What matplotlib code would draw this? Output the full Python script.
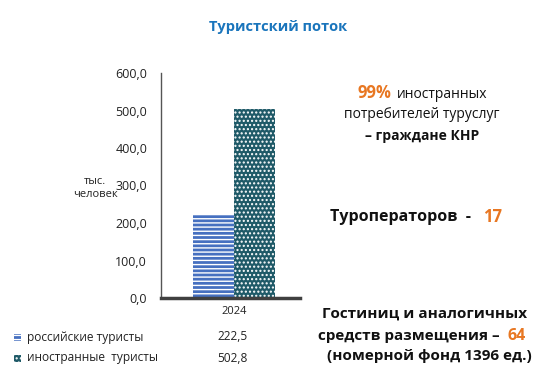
import matplotlib.pyplot as plt
from matplotlib.patches import Rectangle

categories = ["2024"]
series_names = ["российские туристы", "иностранные  туристы"]
russian = [222.5]
foreign = [502.8]
yticks = [0, 100, 200, 300, 400, 500, 600]

plt.rcParams['font.family'] = ['Open Sans', 'DejaVu Sans']
plt.rcParams['hatch.linewidth'] = 1.0

W, H = 556, 379
fig = plt.figure(figsize=(W / 100, H / 100), dpi=100)
ax = fig.add_axes([161 / W, 1 - 298 / H, 139 / W, 225 / H])

bw = 0.295
c_ru = '#4670C0'
c_fo = '#1F5A68'
h_ru = '----'
h_fo = '....'
ax.bar([-bw / 2], russian, width=bw, color=c_ru, hatch=h_ru, edgecolor='white', linewidth=0)
ax.bar([bw / 2], foreign, width=bw, color=c_fo, hatch=h_fo, edgecolor='white', linewidth=0)

ax.set_xlim(-0.525, 0.475)
ax.set_ylim(0, 600)
ax.set_yticks(yticks)
ax.set_yticklabels([f"{v:.1f}".replace('.', ',') for v in yticks], fontsize=9, color='#222222')
ax.set_xticks([0])
ax.set_xticklabels(categories, fontsize=8, color='#222222')
ax.tick_params(length=0, pad=10)
ax.tick_params(axis='x', pad=6)
for s in ['top', 'right']:
    ax.spines[s].set_visible(False)
ax.spines['left'].set_color('#555555')
ax.spines['left'].set_linewidth(1)
ax.spines['bottom'].set_color('#404040')
ax.spines['bottom'].set_linewidth(2.5)

fig.text(278 / W, 1 - 27 / H, "Туристский поток", ha='center', va='center',
         fontsize=10.5, fontweight='bold', color='#1A75BC')
fig.text(95 / W, 1 - 188 / H, "тыс.\nчеловек", ha='center', va='center',
         fontsize=8, color='#222222', linespacing=1.3)

# legend table
rows_y = [337, 358]
colors = [c_ru, c_fo]
hatches = [h_ru, h_fo]
values = [russian[0], foreign[0]]
for y, name, col, h, v in zip(rows_y, series_names, colors, hatches, values):
    fig.patches.append(Rectangle((14 / W, 1 - (y + 4) / H), 7 / W, 7 / H,
                                 transform=fig.transFigure, facecolor=col,
                                 hatch=h, edgecolor='white', linewidth=0))
    fig.text(27 / W, 1 - y / H, name, ha='left', va='center', fontsize=8.6, color='#222222')
    fig.text(232 / W, 1 - y / H, f"{v:.1f}".replace('.', ','), ha='center', va='center',
             fontsize=8.6, color='#222222')

orange = '#E87722'
# right-side notes
fig.text(357 / W, 1 - 93 / H, "99%", ha='left', va='center', fontsize=12,
         fontweight='bold', color=orange)
fig.text(397 / W, 1 - 94 / H, "иностранных", ha='left', va='center', fontsize=10, color='#111111')
fig.text(422 / W, 1 - 115 / H, "потребителей туруслуг", ha='center', va='center',
         fontsize=10, color='#111111')
fig.text(422 / W, 1 - 136 / H, "– граждане КНР", ha='center', va='center',
         fontsize=10, fontweight='bold', color='#111111')

fig.text(330 / W, 1 - 217 / H, "Туроператоров  - ", ha='left', va='center',
         fontsize=11.5, fontweight='bold', color='#111111')
fig.text(483 / W, 1 - 217 / H, "17", ha='left', va='center',
         fontsize=12, fontweight='bold', color=orange)

fig.text(425 / W, 1 - 314 / H, "Гостиниц и аналогичных", ha='center', va='center',
         fontsize=11, fontweight='bold', color='#111111')
fig.text(318 / W, 1 - 336 / H, "средств размещения – ", ha='left', va='center',
         fontsize=11, fontweight='bold', color='#111111')
fig.text(508 / W, 1 - 336 / H, "64", ha='left', va='center',
         fontsize=11.5, fontweight='bold', color=orange)
fig.text(429 / W, 1 - 356 / H, "(номерной фонд 1396 ед.)", ha='center', va='center',
         fontsize=11, fontweight='bold', color='#111111')

fig.savefig("out.png", dpi=100)
